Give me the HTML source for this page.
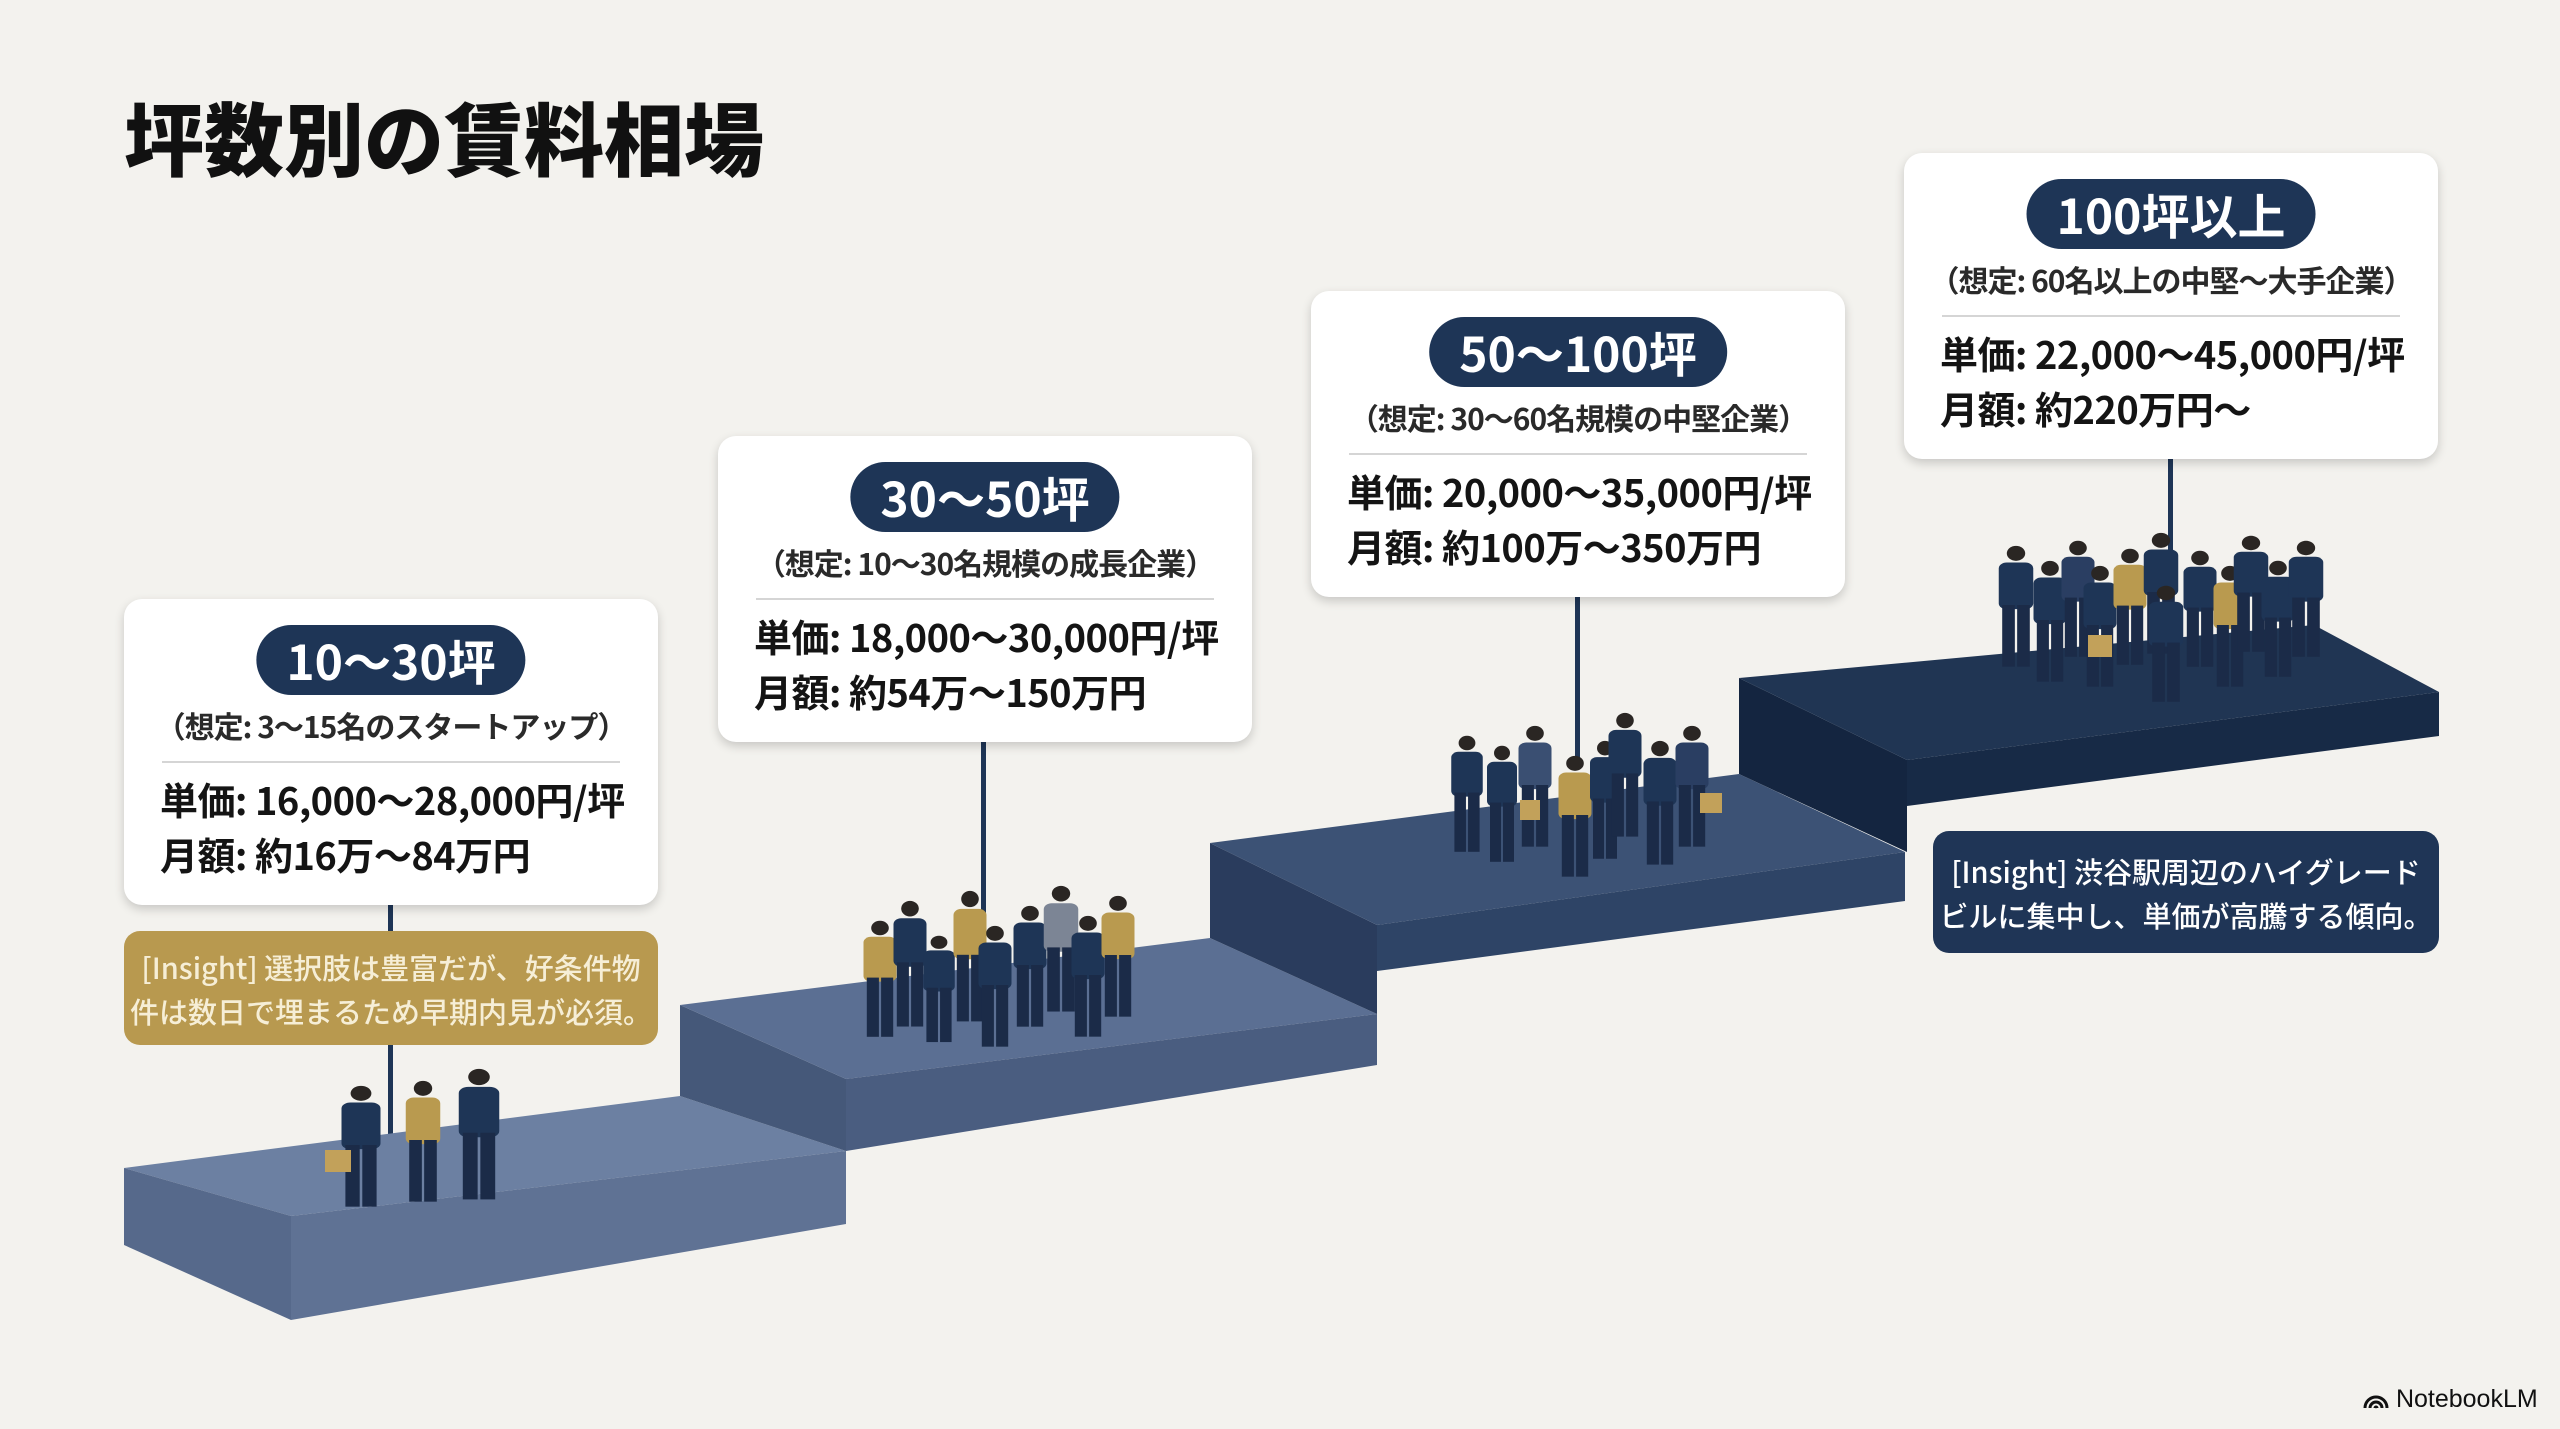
<!DOCTYPE html>
<html><head><meta charset="utf-8">
<style>
*{margin:0;padding:0;box-sizing:border-box}
body{width:2560px;height:1429px;background:#f3f2ee;position:relative;overflow:hidden;font-family:"Liberation Sans","Noto Sans CJK JP",sans-serif;}
.title{position:absolute;left:124px;top:96px;font-size:80px;font-weight:900;color:#111;letter-spacing:0px;line-height:1;font-family:"Noto Sans CJK JP",sans-serif;}
.card{position:absolute;width:534px;height:306px;background:#fff;border-radius:18px;box-shadow:0 4px 10px rgba(0,0,0,.18);font-family:"Noto Sans CJK JP",sans-serif;}
.pill{position:absolute;left:50%;transform:translateX(-50%);top:26px;height:70px;padding:0 30px;border-radius:35px;background:#1e3556;color:#fff;font-size:48px;font-weight:700;line-height:68px;white-space:nowrap;}
.sub{position:absolute;left:0;right:0;top:104px;text-align:center;font-size:30px;font-weight:700;color:#2a2a2a;white-space:nowrap;letter-spacing:-1px;}
.div{position:absolute;left:38px;right:38px;top:162px;height:2px;background:#d5d5d5;}
.l{position:absolute;left:36px;font-size:38px;font-weight:700;color:#141414;white-space:nowrap;letter-spacing:-0.5px;}
.l1{top:172px}.l2{top:227px}
.box{position:absolute;border-radius:16px;font-family:"Noto Sans CJK JP",sans-serif;font-size:29px;line-height:44px;text-align:center;padding-top:14px;white-space:nowrap;font-weight:500;}
.logo{position:absolute;left:2363px;top:1385px;font-size:25px;color:#111;font-family:"Liberation Sans",sans-serif;}
</style></head><body>
<div class="title">坪数別の賃料相場</div>

<svg width="2560" height="1429" style="position:absolute;left:0;top:0">
<defs>
<symbol id="p" viewBox="0 0 40 150" preserveAspectRatio="none" overflow="visible">
<ellipse cx="20" cy="10" rx="8" ry="9" fill="#2a2623"/>
<rect x="5" y="21" width="30" height="56" rx="7" fill="currentColor"/>
<rect x="8" y="72" width="11" height="74" fill="#1b2b48"/>
<rect x="21" y="72" width="11" height="74" fill="#1b2b48"/>
</symbol>
</defs>
<!-- stems -->
<rect x="388" y="900" width="5" height="245" fill="#1e3556"/>
<rect x="981" y="738" width="5" height="178" fill="#1e3556"/>
<rect x="1575" y="594" width="5" height="175" fill="#1e3556"/>
<rect x="2168" y="456" width="5" height="102" fill="#1e3556"/>

<!-- step1 -->
<polygon points="124,1168 680,1096 846,1151 291,1216" fill="#6c80a2"/>
<polygon points="124,1168 291,1216 291,1320 124,1245" fill="#56698b"/>
<polygon points="291,1216 846,1151 846,1224 291,1320" fill="#5f7294"/>
<!-- step2 -->
<polygon points="680,1005 846,1079 846,1151 680,1096" fill="#455879"/>
<polygon points="680,1005 1210,938 1377,1014 846,1079" fill="#5b6f93"/>
<polygon points="846,1079 1377,1014 1377,1065 846,1151" fill="#4a5d80"/>
<!-- step3 -->
<polygon points="1210,843 1377,925 1377,1014 1210,938" fill="#2a3c5d"/>
<polygon points="1210,843 1739,774 1905,852 1377,925" fill="#3c5275"/>
<polygon points="1377,925 1905,852 1905,901 1377,971" fill="#2e4466"/>
<!-- step4 -->
<polygon points="1739,678 1907,760 1907,852 1739,774" fill="#142540"/>
<polygon points="1739,678 2314,625 2439,692 1907,760" fill="#203553"/>
<polygon points="1907,760 2439,692 2439,736 1907,806" fill="#172a46"/>

<!-- people step1 -->
<use href="#p" x="335" y="1085" width="52" height="125" style="color:#1e3556"/>
<use href="#p" x="400" y="1080" width="46" height="125" style="color:#b99a4f"/>
<use href="#p" x="452" y="1068" width="54" height="135" style="color:#1e3556"/>
<rect x="325" y="1150" width="26" height="22" fill="#c2a15a"/>
<!-- people step2 -->
<use href="#p" x="858" y="920" width="44" height="120" style="color:#b99a4f"/>
<use href="#p" x="888" y="900" width="44" height="130" style="color:#1e3556"/>
<use href="#p" x="918" y="935" width="42" height="110" style="color:#1e3556"/>
<use href="#p" x="948" y="890" width="44" height="135" style="color:#b99a4f"/>
<use href="#p" x="973" y="925" width="44" height="125" style="color:#1e3556"/>
<use href="#p" x="1008" y="905" width="44" height="125" style="color:#1e3556"/>
<use href="#p" x="1038" y="885" width="46" height="130" style="color:#7c8595"/>
<use href="#p" x="1066" y="915" width="44" height="125" style="color:#1e3556"/>
<use href="#p" x="1096" y="895" width="44" height="125" style="color:#b99a4f"/>
<!-- people step3 -->
<use href="#p" x="1446" y="735" width="42" height="120" style="color:#1e3556"/>
<use href="#p" x="1482" y="745" width="40" height="120" style="color:#1e3556"/>
<use href="#p" x="1513" y="725" width="44" height="125" style="color:#3a4f72"/>
<use href="#p" x="1553" y="755" width="44" height="125" style="color:#b99a4f"/>
<use href="#p" x="1585" y="740" width="40" height="122" style="color:#1e3556"/>
<use href="#p" x="1603" y="712" width="44" height="128" style="color:#1e3556"/>
<use href="#p" x="1638" y="740" width="44" height="128" style="color:#1e3556"/>
<use href="#p" x="1670" y="725" width="44" height="125" style="color:#2a3e62"/>
<rect x="1520" y="800" width="20" height="20" fill="#c2a15a"/>
<rect x="1700" y="793" width="22" height="20" fill="#c2a15a"/>
<!-- people step4 -->
<use href="#p" x="1993" y="545" width="46" height="125" style="color:#1e3556"/>
<use href="#p" x="2028" y="560" width="44" height="125" style="color:#1e3556"/>
<use href="#p" x="2056" y="540" width="44" height="120" style="color:#2a3e62"/>
<use href="#p" x="2078" y="565" width="44" height="125" style="color:#1e3556"/>
<use href="#p" x="2108" y="548" width="44" height="120" style="color:#b99a4f"/>
<use href="#p" x="2138" y="532" width="46" height="125" style="color:#1e3556"/>
<use href="#p" x="2143" y="585" width="46" height="120" style="color:#1e3556"/>
<use href="#p" x="2178" y="550" width="44" height="120" style="color:#1e3556"/>
<use href="#p" x="2208" y="565" width="44" height="125" style="color:#b99a4f"/>
<use href="#p" x="2228" y="535" width="46" height="120" style="color:#1e3556"/>
<use href="#p" x="2256" y="560" width="44" height="120" style="color:#1e3556"/>
<use href="#p" x="2283" y="540" width="46" height="120" style="color:#1e3556"/>
<rect x="2088" y="635" width="24" height="22" fill="#c2a15a"/>
</svg>

<div class="card" style="left:124px;top:599px">
<div class="pill">10〜30坪</div>
<div class="sub">（想定: 3〜15名のスタートアップ）</div>
<div class="div"></div>
<div class="l l1">単価: 16,000〜28,000円/坪</div>
<div class="l l2">月額: 約16万〜84万円</div>
</div>
<div class="card" style="left:718px;top:436px">
<div class="pill">30〜50坪</div>
<div class="sub">（想定: 10〜30名規模の成長企業）</div>
<div class="div"></div>
<div class="l l1">単価: 18,000〜30,000円/坪</div>
<div class="l l2">月額: 約54万〜150万円</div>
</div>
<div class="card" style="left:1311px;top:291px">
<div class="pill">50〜100坪</div>
<div class="sub">（想定: 30〜60名規模の中堅企業）</div>
<div class="div"></div>
<div class="l l1">単価: 20,000〜35,000円/坪</div>
<div class="l l2">月額: 約100万〜350万円</div>
</div>
<div class="card" style="left:1904px;top:153px">
<div class="pill">100坪以上</div>
<div class="sub">（想定: 60名以上の中堅〜大手企業）</div>
<div class="div"></div>
<div class="l l1">単価: 22,000〜45,000円/坪</div>
<div class="l l2">月額: 約220万円〜</div>
</div>

<div class="box" style="left:124px;top:931px;width:534px;height:114px;background:#b8994f;color:#f6eed6;">[Insight] 選択肢は豊富だが、好条件物<br>件は数日で埋まるため早期内見が必須。</div>
<div class="box" style="left:1933px;top:831px;width:506px;height:122px;background:#1f3556;color:#fff;padding-top:18px;">[Insight] 渋谷駅周辺のハイグレード<br>ビルに集中し、単価が高騰する傾向。</div>

<div class="logo"><svg width="26" height="20" viewBox="0 0 26 20" style="vertical-align:-2px"><path d="M2 19 A11 11 0 0 1 24 19 M7 19 A6 6 0 0 1 19 19 M12 19 A1 1 0 0 1 14 19" stroke="#111" stroke-width="3" fill="none"/></svg> NotebookLM</div>
</body></html>
